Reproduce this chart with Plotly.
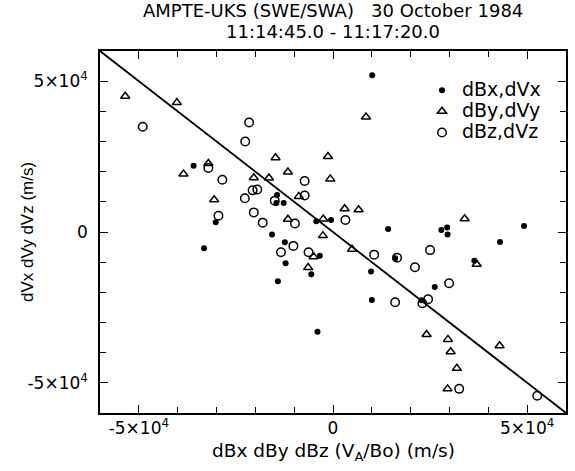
import plotly.graph_objects as go

# Values in units of 1e3 m/s
bx_x = [10.1, -35.9, -14.4, -14.6, -12.7, -30.2, -15.7, -4.3, -0.5, -33.2, -12.4, -12.2,
        -3.4, -5.6, -14.2, -4.0, 14.2, 27.9, 29.4, 29.5, 49.2, 43.0, 16.0, 9.8, 36.4,
        26.2, 10.0, 22.8]
bx_y = [52.0, 22.0, 12.3, 9.6, 9.6, 3.2, -0.8, 3.6, 4.0, -5.4, -3.4, -10.4,
        -7.9, -14.0, -16.3, -33.1, 1.0, 0.7, 1.5, -0.8, 2.0, -3.3, -8.7, -13.1, -9.5,
        -18.2, -22.5, -22.6]

by_x = [-53.5, -40.2, -38.5, -32.1, -14.8, -20.4, -16.5, -11.6, -30.6, -8.8, -1.3, -0.7,
        8.5, 3.0, 6.6, -2.5, -2.6, -11.6, -5.0, -6.4, 33.9, 4.9, 37.0, 24.1, 29.6, 30.3,
        31.9, 29.5, 42.9]
by_y = [45.0, 42.9, 19.2, 22.7, 24.6, 18.0, 17.9, 19.9, 10.7, 11.8, 25.0, 17.6,
        38.1, 7.7, 7.4, 4.3, -1.2, 4.2, -8.2, -11.8, 4.4, -5.7, -10.7, -34.0, -35.6, -39.7,
        -45.2, -52.0, -37.7]

bz_x = [-49.0, -21.6, -22.6, -32.1, -28.5, -7.3, -22.7, -20.7, -19.5, -7.3, -15.0, -20.4,
        -29.5, -18.1, -9.8, -10.2, -13.4, -6.3, 3.2, 10.6, 16.5, 25.0, 21.1, 29.9, 16.0,
        23.0, 24.5, 32.5, 52.6]
bz_y = [34.9, 36.3, 30.0, 21.2, 17.3, 16.9, 11.2, 13.8, 14.1, 12.1, 10.4, 6.5,
        5.4, 3.1, 2.8, -4.6, -6.7, -6.7, 4.0, -7.5, -8.5, -6.0, -11.7, -17.0, -23.3,
        -23.6, -22.3, -52.0, -54.3]

fit_x = [-60.0, 60.0]
fit_y = [60.0, -60.0]

series_names = ["dBx,dVx", "dBy,dVy", "dBz,dVz"]

scale = 1000.0

tick_vals = [-50000, 0, 50000]
tick_text = ["-5×10<sup>4</sup>", "0", "5×10<sup>4</sup>"]

WIDE = "DejaVu Sans, Verdana, sans-serif"
NARROW = "Liberation Sans, Arial, sans-serif"


def leg(name):
    return '<span style="font-size:19px">' + name + '</span>'


fig = go.Figure()
fig.add_trace(go.Scatter(x=[v * scale for v in fit_x], y=[v * scale for v in fit_y],
                         mode="lines", line=dict(color="black", width=1.8),
                         showlegend=False, hoverinfo="skip"))
fig.add_trace(go.Scatter(x=[v * scale for v in bx_x], y=[v * scale for v in bx_y],
                         mode="markers", name=leg(series_names[0]),
                         marker=dict(symbol="circle", size=6, color="black")))
fig.add_trace(go.Scatter(x=[v * scale for v in by_x], y=[v * scale for v in by_y],
                         mode="markers", name=leg(series_names[1]),
                         marker=dict(symbol="triangle-up-open", size=8, color="black",
                                     line=dict(width=1.5, color="black"))))
fig.add_trace(go.Scatter(x=[v * scale for v in bz_x], y=[v * scale for v in bz_y],
                         mode="markers", name=leg(series_names[2]),
                         marker=dict(symbol="circle-open", size=8.5, color="black",
                                     line=dict(width=1.5, color="black"))))

axis_common = dict(
    range=[-60000, 60000], showgrid=False, zeroline=False,
    showline=True, linecolor="black", linewidth=1.5, mirror="ticks",
    ticks="inside", ticklen=8, tickwidth=1.3, tickcolor="black",
    tickvals=tick_vals, ticktext=tick_text,
    minor=dict(dtick=10000, tick0=0, ticks="inside", ticklen=6, tickwidth=1.3, tickcolor="black"),
    tickfont=dict(family=WIDE, size=17, color="black"),
)

fig.update_layout(
    width=575, height=471,
    margin=dict(l=100, r=7, t=51, b=58),
    paper_bgcolor="white", plot_bgcolor="white",
    font=dict(family=WIDE, size=17, color="black"),
    xaxis=dict(**axis_common, ticklabelstandoff=-1),
    yaxis=dict(**axis_common, ticklabelstandoff=7),
    legend=dict(x=0.691, y=0.935, xanchor="left", yanchor="top",
                bgcolor="rgba(0,0,0,0)", font=dict(family=WIDE, size=14),
                itemwidth=30, tracegroupgap=0),
    annotations=[
        dict(text="AMPTE-UKS (SWE/SWA)   30 October 1984", xref="paper", yref="paper",
             x=0.5, y=1.0, yshift=40.5, xanchor="center", yanchor="middle",
             showarrow=False, font=dict(family=WIDE, size=18, color="black")),
        dict(text="11:14:45.0 - 11:17:20.0", xref="paper", yref="paper",
             x=0.5, y=1.0, yshift=19.5, xanchor="center", yanchor="middle",
             showarrow=False, font=dict(family=WIDE, size=18, color="black")),
        dict(text="dVx dVy dVz (m/s)", xref="paper", yref="paper",
             x=0.0, y=0.5, xshift=-73, xanchor="center", yanchor="middle",
             textangle=-90, showarrow=False,
             font=dict(family=NARROW, size=17, color="black")),
        dict(text="dBx dBy dBz (V<sub>A</sub>/Bo) (m/s)", xref="paper", yref="paper",
             x=0.5, y=0.0, yshift=-39, xanchor="center", yanchor="middle",
             showarrow=False, font=dict(family=WIDE, size=18.5, color="black")),
    ],
)

fig.write_html("out.html")
